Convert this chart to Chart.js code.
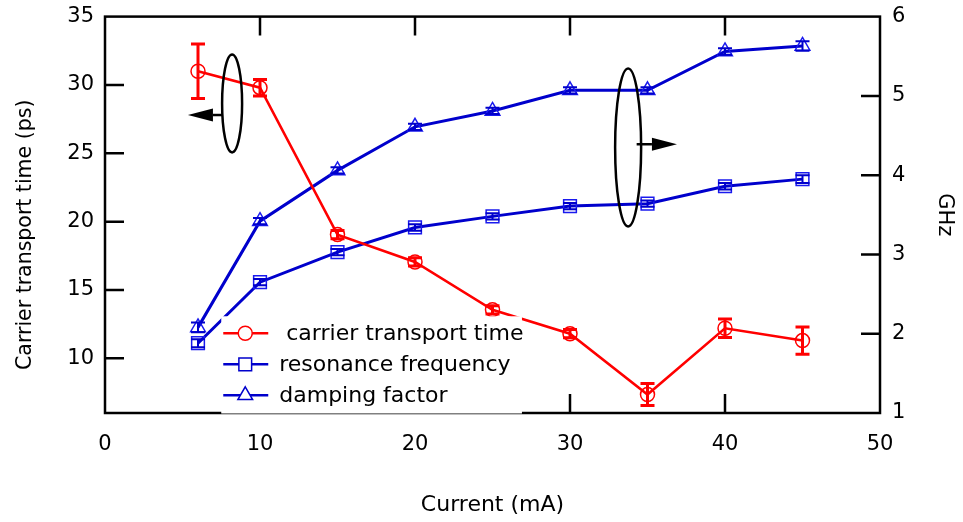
<!DOCTYPE html>
<html>
<head>
<meta charset="utf-8">
<script src="https://cdn.jsdelivr.net/npm/chart.js@4.4.1/dist/chart.umd.min.js"></script>
<style>
  html, body { margin: 0; padding: 0; background: #fff; }
  #wrap { width: 963px; height: 522px; }
</style>
</head>
<body>
<div id="wrap"><canvas id="c" width="963" height="522"></canvas></div>
<script>
// data
const current = [6, 10, 15, 20, 25, 30, 35, 40, 45];
const transportTime = [31.0, 29.8, 19.05, 17.05, 13.55, 11.8, 7.35, 12.2, 11.3];
const transportErr = [2.0, 0.6, 0.3, 0.3, 0.3, 0.3, 0.8, 0.68, 1.0];
const resonanceFreq = [1.88, 2.65, 3.03, 3.34, 3.48, 3.61, 3.64, 3.86, 3.95];
const resonanceErr = [0.05, 0.04, 0.04, 0.04, 0.04, 0.04, 0.04, 0.04, 0.05];
const dampingFactor = [2.08, 3.42, 4.06, 4.61, 4.81, 5.07, 5.07, 5.56, 5.63];
const dampingErr = [0.06, 0.04, 0.04, 0.04, 0.04, 0.04, 0.04, 0.04, 0.06];

const xTicks = [0, 10, 20, 30, 40, 50];
const leftTicks = [10, 15, 20, 25, 30, 35];
const rightTicks = [1, 2, 3, 4, 5, 6];

const RED = '#ff0000';
const BLUE = '#0000cc';
const FONT = 'DejaVu Sans';

const pts = (ys) => current.map((x, i) => ({ x: x, y: ys[i] }));

// error bars
const errorBars = {
  id: 'errorBars',
  afterDatasetsDraw(chart) {
    const ctx = chart.ctx;
    chart.data.datasets.forEach((ds) => {
      if (!ds.err) return;
      const xs = chart.scales.x, ys = chart.scales[ds.yAxisID];
      ctx.save();
      ctx.strokeStyle = ds.borderColor;
      ctx.lineWidth = ds.errWidth;
      ds.data.forEach((p, i) => {
        const px = xs.getPixelForValue(p.x);
        const top = ys.getPixelForValue(p.y + ds.err[i]);
        const bot = ys.getPixelForValue(p.y - ds.err[i]);
        ctx.beginPath();
        ctx.moveTo(px, top); ctx.lineTo(px, bot);
        ctx.moveTo(px - 7, top); ctx.lineTo(px + 7, top);
        ctx.moveTo(px - 7, bot); ctx.lineTo(px + 7, bot);
        ctx.stroke();
      });
      ctx.restore();
    });
  }
};

// box frame with inward ticks, ellipses and arrows, legend, left title
const frame = {
  id: 'frame',
  afterDatasetsDraw(chart) {
    const ctx = chart.ctx;
    const a = chart.chartArea;
    const xs = chart.scales.x, yl = chart.scales.y, yr = chart.scales.y1;
    ctx.save();
    ctx.strokeStyle = '#000';
    ctx.lineWidth = 2.5;
    ctx.strokeRect(a.left, a.top, a.right - a.left, a.bottom - a.top);
    ctx.beginPath();
    xTicks.slice(1, -1).forEach(v => {
      const px = xs.getPixelForValue(v);
      ctx.moveTo(px, a.top); ctx.lineTo(px, a.top + 19);
      ctx.moveTo(px, a.bottom); ctx.lineTo(px, a.bottom - 19);
    });
    leftTicks.slice(0, -1).forEach(v => {
      const py = yl.getPixelForValue(v);
      ctx.moveTo(a.left, py); ctx.lineTo(a.left + 19, py);
    });
    rightTicks.slice(1, -1).forEach(v => {
      const py = yr.getPixelForValue(v);
      ctx.moveTo(a.right, py); ctx.lineTo(a.right - 19, py);
    });
    ctx.stroke();

    // left group marker: ellipse + arrow pointing to left axis
    ctx.lineWidth = 2.5;
    ctx.beginPath();
    ctx.ellipse(xs.getPixelForValue(8.2), yl.getPixelForValue(28.65), 10, 49, 0, 0, Math.PI * 2);
    ctx.stroke();
    drawArrow(ctx, xs.getPixelForValue(7.55), xs.getPixelForValue(5.35), yl.getPixelForValue(27.8), -1);

    // right group marker
    ctx.beginPath();
    ctx.ellipse(xs.getPixelForValue(33.75), yr.getPixelForValue(4.35), 13, 79, 0, 0, Math.PI * 2);
    ctx.stroke();
    drawArrow(ctx, xs.getPixelForValue(34.3), xs.getPixelForValue(36.9), yr.getPixelForValue(4.39), 1);
    ctx.restore();
  },
  afterDraw(chart) {
    const ctx = chart.ctx;
    const a = chart.chartArea;
    const xs = chart.scales.x, yr = chart.scales.y1;

    // left axis title, sits a little below the plot's middle
    ctx.save();
    ctx.fillStyle = '#000';
    ctx.font = '20.5px "' + FONT + '"';
    ctx.textAlign = 'center';
    ctx.textBaseline = 'middle';
    ctx.translate(26, (a.top + a.bottom) / 2 + 20);
    ctx.rotate(-Math.PI / 2);
    ctx.fillText('Carrier transport time (ps)', 0, 0);
    ctx.restore();

    // legend in a white box over the lower-left of the plot
    const x0 = xs.getPixelForValue(7.5);
    const x1 = xs.getPixelForValue(26.9);
    const top = yr.getPixelForValue(2.22);
    const bottom = a.bottom + 0.5;
    ctx.save();
    ctx.fillStyle = '#fff';
    ctx.fillRect(x0, top, x1 - x0, bottom - top);
    const rows = [
      { label: ' carrier transport time', ds: chart.data.datasets[0] },
      { label: 'resonance frequency', ds: chart.data.datasets[1] },
      { label: 'damping factor', ds: chart.data.datasets[2] }
    ];
    ctx.font = '22px "' + FONT + '"';
    ctx.textBaseline = 'middle';
    rows.forEach((r, i) => {
      const cy = top + 17 + i * 31;
      ctx.strokeStyle = r.ds.borderColor;
      ctx.lineWidth = 2.5;
      ctx.beginPath();
      ctx.moveTo(x0 + 2, cy); ctx.lineTo(x0 + 47, cy);
      ctx.stroke();
      ctx.fillStyle = '#fff';
      ctx.lineWidth = 1.5;
      Chart.helpers.drawPoint(ctx, { pointStyle: r.ds.pointStyle, radius: r.ds.pointRadius, rotation: 0, borderWidth: 1.5 }, x0 + 24, cy);
      ctx.fillStyle = '#000';
      ctx.fillText(r.label, x0 + 58, cy + 1);
    });
    ctx.restore();
  }
};

function drawArrow(ctx, from, to, y, dir) {
  const head = to - dir * 25;
  ctx.beginPath();
  ctx.moveTo(from, y); ctx.lineTo(head, y);
  ctx.stroke();
  ctx.beginPath();
  ctx.moveTo(to, y);
  ctx.lineTo(head, y - 6.5);
  ctx.lineTo(head, y + 6.5);
  ctx.closePath();
  ctx.fillStyle = '#000';
  ctx.fill();
}

new Chart(document.getElementById('c'), {
  type: 'line',
  data: {
    datasets: [
      {
        label: 'carrier transport time', data: pts(transportTime), err: transportErr, errWidth: 3,
        yAxisID: 'y', borderColor: RED, borderWidth: 2.5, pointStyle: 'circle', pointRadius: 7,
        pointBorderWidth: 1.5, pointBackgroundColor: 'rgba(0,0,0,0)', pointBorderColor: RED
      },
      {
        label: 'resonance frequency', data: pts(resonanceFreq), err: resonanceErr, errWidth: 2,
        yAxisID: 'y1', borderColor: BLUE, borderWidth: 3, pointStyle: 'rect', pointRadius: 9,
        pointBorderWidth: 1.5, pointBackgroundColor: 'rgba(0,0,0,0)', pointBorderColor: '#1a1aee'
      },
      {
        label: 'damping factor', data: pts(dampingFactor), err: dampingErr, errWidth: 2,
        yAxisID: 'y1', borderColor: BLUE, borderWidth: 3, pointStyle: 'triangle', pointRadius: 8.5,
        pointBorderWidth: 1.5, pointBackgroundColor: 'rgba(0,0,0,0)', pointBorderColor: '#1a1aee'
      }
    ]
  },
  options: {
    responsive: false,
    animation: false,
    layout: { padding: { top: 16.5 } },
    plugins: { legend: { display: false }, tooltip: { enabled: false } },
    scales: {
      x: {
        type: 'linear', min: 0, max: 50,
        afterBuildTicks: s => { s.ticks = xTicks.map(v => ({ value: v })); },
        afterFit: s => { s.height = 109; },
        grid: { display: false }, border: { display: false },
        ticks: { color: '#000', font: { family: FONT, size: 21 }, padding: 11, maxRotation: 0 },
        title: { display: true, text: 'Current (mA)', color: '#000', font: { family: FONT, size: 22 }, padding: { top: 4, bottom: 4 } }
      },
      y: {
        position: 'left', min: 6, max: 35,
        afterBuildTicks: s => { s.ticks = leftTicks.map(v => ({ value: v })); },
        afterFit: s => { s.width = 105; },
        grid: { display: false }, border: { display: false },
        ticks: { color: '#000', font: { family: FONT, size: 21 }, padding: 3 }
      },
      y1: {
        position: 'right', min: 1, max: 6,
        afterBuildTicks: s => { s.ticks = rightTicks.map(v => ({ value: v })); },
        afterFit: s => { s.width = 83; },
        grid: { display: false }, border: { display: false },
        ticks: { color: '#000', font: { family: FONT, size: 21 }, padding: 4 },
        title: { display: true, text: 'GHz', color: '#000', font: { family: FONT, size: 21 }, padding: { top: 6, bottom: 4 } }
      }
    }
  },
  plugins: [errorBars, frame]
});
</script>
</body>
</html>
